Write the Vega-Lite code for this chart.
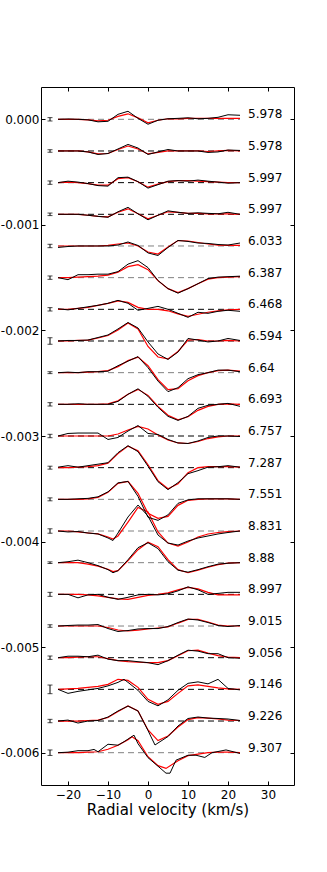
{
"$schema": "https://vega.github.io/schema/vega-lite/v6.json",
"width": 253, "height": 698,
"autosize": "none",
"padding": {"left": 41, "top": 87, "right": 33, "bottom": 87},
"background": "white",
"config": {
  "font": "DejaVu Sans",
  "view": {"stroke": "black", "strokeWidth": 1},
  "axis": {"grid": false, "domain": false, "tickColor": "black", "tickWidth": 1, "labelColor": "black", "labelFont": "DejaVu Sans", "labelFontSize": 12, "labelFlush": false, "labelOverlap": false}
},
"datasets": {
"meta": [
{"p":0,"label":"5.978","base":0,"err":0.000016,"group":"b"},
{"p":1,"label":"5.978","base":-0.0003,"err":0.000012,"group":"a"},
{"p":2,"label":"5.997","base":-0.0006,"err":0.000016,"group":"a"},
{"p":3,"label":"5.997","base":-0.0009,"err":0.000012,"group":"a"},
{"p":4,"label":"6.033","base":-0.0012,"err":0.000016,"group":"b"},
{"p":5,"label":"6.387","base":-0.0015,"err":0.000016,"group":"b"},
{"p":6,"label":"6.468","base":-0.0018,"err":0.000016,"group":"a"},
{"p":7,"label":"6.594","base":-0.0021,"err":0.000031,"group":"a"},
{"p":8,"label":"6.64","base":-0.0024,"err":0.000009,"group":"b"},
{"p":9,"label":"6.693","base":-0.0027,"err":0.000016,"group":"a"},
{"p":10,"label":"6.757","base":-0.003,"err":0.000016,"group":"a"},
{"p":11,"label":"7.287","base":-0.0033,"err":0.000014,"group":"a"},
{"p":12,"label":"7.551","base":-0.0036,"err":0.000014,"group":"b"},
{"p":13,"label":"8.831","base":-0.0039,"err":0.000021,"group":"b"},
{"p":14,"label":"8.88","base":-0.0042,"err":0.000008,"group":"b"},
{"p":15,"label":"8.997","base":-0.0045,"err":0.000019,"group":"a"},
{"p":16,"label":"9.015","base":-0.0048,"err":0.000012,"group":"b"},
{"p":17,"label":"9.056","base":-0.0051,"err":0.000016,"group":"a"},
{"p":18,"label":"9.146","base":-0.0054,"err":0.000041,"group":"a"},
{"p":19,"label":"9.226","base":-0.0057,"err":0.000016,"group":"a"},
{"p":20,"label":"9.307","base":-0.006,"err":0.000026,"group":"b"}
],
"obs": [
{"p":0,"v":-22.5,"y":0},{"p":0,"v":-20,"y":0.000003},{"p":0,"v":-17.5,"y":0},{"p":0,"v":-15,"y":-0.000005},{"p":0,"v":-12.5,"y":-0.000024},{"p":0,"v":-10,"y":-0.000019},{"p":0,"v":-7.5,"y":0.000047},{"p":0,"v":-5,"y":0.000076},{"p":0,"v":-2.5,"y":0.000009},{"p":0,"v":0,"y":-0.000047},{"p":0,"v":2.5,"y":-0.000009},{"p":0,"v":5,"y":0.000005},{"p":0,"v":7.5,"y":0.000009},{"p":0,"v":10,"y":0.000014},{"p":0,"v":12.5,"y":0.000005},{"p":0,"v":15,"y":0.000009},{"p":0,"v":17.5,"y":0.000019},{"p":0,"v":20,"y":0.000043},{"p":0,"v":23,"y":0.000038},
{"p":1,"v":-22.5,"y":-0.0003},{"p":1,"v":-20,"y":-0.0003},{"p":1,"v":-17.5,"y":-0.0003},{"p":1,"v":-15,"y":-0.000309},{"p":1,"v":-12.5,"y":-0.000333},{"p":1,"v":-10,"y":-0.000324},{"p":1,"v":-7.5,"y":-0.000281},{"p":1,"v":-5,"y":-0.000238},{"p":1,"v":-2.5,"y":-0.000272},{"p":1,"v":0,"y":-0.000333},{"p":1,"v":2.5,"y":-0.000309},{"p":1,"v":5,"y":-0.000286},{"p":1,"v":7.5,"y":-0.0003},{"p":1,"v":10,"y":-0.0003},{"p":1,"v":12.5,"y":-0.0003},{"p":1,"v":15,"y":-0.000314},{"p":1,"v":17.5,"y":-0.000309},{"p":1,"v":20,"y":-0.000291},{"p":1,"v":23,"y":-0.000295},
{"p":2,"v":-22.5,"y":-0.0006},{"p":2,"v":-20,"y":-0.000586},{"p":2,"v":-17.5,"y":-0.000595},{"p":2,"v":-15,"y":-0.000609},{"p":2,"v":-12.5,"y":-0.000628},{"p":2,"v":-10,"y":-0.000633},{"p":2,"v":-7.5,"y":-0.000553},{"p":2,"v":-5,"y":-0.000548},{"p":2,"v":-2.5,"y":-0.000591},{"p":2,"v":0,"y":-0.000652},{"p":2,"v":2.5,"y":-0.000619},{"p":2,"v":5,"y":-0.000586},{"p":2,"v":7.5,"y":-0.000581},{"p":2,"v":10,"y":-0.000586},{"p":2,"v":12.5,"y":-0.000576},{"p":2,"v":15,"y":-0.000586},{"p":2,"v":17.5,"y":-0.000595},{"p":2,"v":20,"y":-0.000605},{"p":2,"v":23,"y":-0.0006},
{"p":3,"v":-22.5,"y":-0.0009},{"p":3,"v":-20,"y":-0.0009},{"p":3,"v":-17.5,"y":-0.0009},{"p":3,"v":-15,"y":-0.000909},{"p":3,"v":-12.5,"y":-0.000919},{"p":3,"v":-10,"y":-0.000928},{"p":3,"v":-7.5,"y":-0.000876},{"p":3,"v":-5,"y":-0.000834},{"p":3,"v":-2.5,"y":-0.000895},{"p":3,"v":0,"y":-0.000952},{"p":3,"v":2.5,"y":-0.000909},{"p":3,"v":5,"y":-0.000867},{"p":3,"v":7.5,"y":-0.000881},{"p":3,"v":10,"y":-0.000891},{"p":3,"v":12.5,"y":-0.000886},{"p":3,"v":15,"y":-0.000891},{"p":3,"v":17.5,"y":-0.000895},{"p":3,"v":20,"y":-0.000881},{"p":3,"v":23,"y":-0.0009},
{"p":4,"v":-22.5,"y":-0.001214},{"p":4,"v":-20,"y":-0.001205},{"p":4,"v":-17.5,"y":-0.0012},{"p":4,"v":-15,"y":-0.0012},{"p":4,"v":-12.5,"y":-0.0012},{"p":4,"v":-10,"y":-0.0012},{"p":4,"v":-7.5,"y":-0.001191},{"p":4,"v":-5,"y":-0.001162},{"p":4,"v":-2.5,"y":-0.001195},{"p":4,"v":0,"y":-0.001266},{"p":4,"v":2.5,"y":-0.00129},{"p":4,"v":5,"y":-0.001214},{"p":4,"v":7.5,"y":-0.001148},{"p":4,"v":10,"y":-0.001157},{"p":4,"v":12.5,"y":-0.001172},{"p":4,"v":15,"y":-0.001176},{"p":4,"v":17.5,"y":-0.001186},{"p":4,"v":20,"y":-0.001191},{"p":4,"v":23,"y":-0.001172},
{"p":5,"v":-22.5,"y":-0.0015},{"p":5,"v":-20,"y":-0.001519},{"p":5,"v":-17.5,"y":-0.001472},{"p":5,"v":-15,"y":-0.001472},{"p":5,"v":-12.5,"y":-0.001467},{"p":5,"v":-10,"y":-0.001467},{"p":5,"v":-7.5,"y":-0.001443},{"p":5,"v":-5,"y":-0.001372},{"p":5,"v":-2.5,"y":-0.001339},{"p":5,"v":0,"y":-0.001405},{"p":5,"v":2.5,"y":-0.001528},{"p":5,"v":5,"y":-0.001604},{"p":5,"v":7.5,"y":-0.001647},{"p":5,"v":10,"y":-0.001604},{"p":5,"v":12.5,"y":-0.001557},{"p":5,"v":15,"y":-0.001509},{"p":5,"v":17.5,"y":-0.001495},{"p":5,"v":20,"y":-0.001491},{"p":5,"v":23,"y":-0.001486},
{"p":6,"v":-22.5,"y":-0.001795},{"p":6,"v":-20,"y":-0.001805},{"p":6,"v":-17.5,"y":-0.001791},{"p":6,"v":-15,"y":-0.001776},{"p":6,"v":-12.5,"y":-0.001762},{"p":6,"v":-10,"y":-0.001743},{"p":6,"v":-7.5,"y":-0.001715},{"p":6,"v":-5,"y":-0.001743},{"p":6,"v":-2.5,"y":-0.001809},{"p":6,"v":0,"y":-0.001791},{"p":6,"v":2.5,"y":-0.001772},{"p":6,"v":5,"y":-0.0018},{"p":6,"v":7.5,"y":-0.001838},{"p":6,"v":10,"y":-0.001876},{"p":6,"v":12.5,"y":-0.001828},{"p":6,"v":15,"y":-0.001838},{"p":6,"v":17.5,"y":-0.001819},{"p":6,"v":20,"y":-0.001809},{"p":6,"v":23,"y":-0.001819},
{"p":7,"v":-22.5,"y":-0.0021},{"p":7,"v":-20,"y":-0.002095},{"p":7,"v":-17.5,"y":-0.002095},{"p":7,"v":-15,"y":-0.002091},{"p":7,"v":-12.5,"y":-0.002067},{"p":7,"v":-10,"y":-0.002043},{"p":7,"v":-7.5,"y":-0.001986},{"p":7,"v":-5,"y":-0.001925},{"p":7,"v":-2.5,"y":-0.001977},{"p":7,"v":0,"y":-0.002109},{"p":7,"v":2.5,"y":-0.002223},{"p":7,"v":5,"y":-0.002275},{"p":7,"v":7.5,"y":-0.002204},{"p":7,"v":10,"y":-0.002076},{"p":7,"v":12.5,"y":-0.002091},{"p":7,"v":15,"y":-0.002109},{"p":7,"v":17.5,"y":-0.0021},{"p":7,"v":20,"y":-0.002076},{"p":7,"v":23,"y":-0.002095},
{"p":8,"v":-22.5,"y":-0.0024},{"p":8,"v":-20,"y":-0.002395},{"p":8,"v":-17.5,"y":-0.0024},{"p":8,"v":-15,"y":-0.002391},{"p":8,"v":-12.5,"y":-0.002391},{"p":8,"v":-10,"y":-0.002386},{"p":8,"v":-7.5,"y":-0.002334},{"p":8,"v":-5,"y":-0.002291},{"p":8,"v":-2.5,"y":-0.002248},{"p":8,"v":0,"y":-0.002353},{"p":8,"v":2.5,"y":-0.00248},{"p":8,"v":5,"y":-0.00258},{"p":8,"v":7.5,"y":-0.002542},{"p":8,"v":10,"y":-0.002457},{"p":8,"v":12.5,"y":-0.002419},{"p":8,"v":15,"y":-0.0024},{"p":8,"v":17.5,"y":-0.002376},{"p":8,"v":20,"y":-0.002376},{"p":8,"v":23,"y":-0.002391},
{"p":9,"v":-22.5,"y":-0.0027},{"p":9,"v":-20,"y":-0.0027},{"p":9,"v":-17.5,"y":-0.002695},{"p":9,"v":-15,"y":-0.0027},{"p":9,"v":-12.5,"y":-0.0027},{"p":9,"v":-10,"y":-0.0027},{"p":9,"v":-7.5,"y":-0.002672},{"p":9,"v":-5,"y":-0.002605},{"p":9,"v":-2.5,"y":-0.002553},{"p":9,"v":0,"y":-0.002624},{"p":9,"v":2.5,"y":-0.002728},{"p":9,"v":5,"y":-0.002814},{"p":9,"v":7.5,"y":-0.002852},{"p":9,"v":10,"y":-0.002814},{"p":9,"v":12.5,"y":-0.002738},{"p":9,"v":15,"y":-0.002709},{"p":9,"v":17.5,"y":-0.0027},{"p":9,"v":20,"y":-0.002691},{"p":9,"v":23,"y":-0.002719},
{"p":10,"v":-22.5,"y":-0.003},{"p":10,"v":-20,"y":-0.002976},{"p":10,"v":-17.5,"y":-0.002972},{"p":10,"v":-15,"y":-0.002972},{"p":10,"v":-12.5,"y":-0.002972},{"p":10,"v":-10,"y":-0.003033},{"p":10,"v":-7.5,"y":-0.003014},{"p":10,"v":-5,"y":-0.002953},{"p":10,"v":-2.5,"y":-0.002901},{"p":10,"v":0,"y":-0.002976},{"p":10,"v":2.5,"y":-0.002986},{"p":10,"v":5,"y":-0.003033},{"p":10,"v":7.5,"y":-0.003066},{"p":10,"v":10,"y":-0.003071},{"p":10,"v":12.5,"y":-0.003047},{"p":10,"v":15,"y":-0.003014},{"p":10,"v":17.5,"y":-0.003},{"p":10,"v":20,"y":-0.003},{"p":10,"v":23,"y":-0.003005},
{"p":11,"v":-22.5,"y":-0.003295},{"p":11,"v":-20,"y":-0.003281},{"p":11,"v":-17.5,"y":-0.003295},{"p":11,"v":-15,"y":-0.003281},{"p":11,"v":-12.5,"y":-0.003267},{"p":11,"v":-10,"y":-0.003253},{"p":11,"v":-7.5,"y":-0.003158},{"p":11,"v":-5,"y":-0.003092},{"p":11,"v":-2.5,"y":-0.003148},{"p":11,"v":0,"y":-0.003286},{"p":11,"v":2.5,"y":-0.003433},{"p":11,"v":5,"y":-0.003508},{"p":11,"v":7.5,"y":-0.003442},{"p":11,"v":10,"y":-0.003357},{"p":11,"v":12.5,"y":-0.003328},{"p":11,"v":15,"y":-0.003295},{"p":11,"v":17.5,"y":-0.003291},{"p":11,"v":20,"y":-0.003281},{"p":11,"v":23,"y":-0.003295},
{"p":12,"v":-22.5,"y":-0.0036},{"p":12,"v":-20,"y":-0.0036},{"p":12,"v":-17.5,"y":-0.003595},{"p":12,"v":-15,"y":-0.003591},{"p":12,"v":-12.5,"y":-0.003576},{"p":12,"v":-10,"y":-0.003529},{"p":12,"v":-7.5,"y":-0.003444},{"p":12,"v":-5,"y":-0.00343},{"p":12,"v":-2.5,"y":-0.003572},{"p":12,"v":0,"y":-0.00377},{"p":12,"v":2.5,"y":-0.003799},{"p":12,"v":5,"y":-0.003747},{"p":12,"v":7.5,"y":-0.003638},{"p":12,"v":10,"y":-0.003605},{"p":12,"v":12.5,"y":-0.003595},{"p":12,"v":15,"y":-0.003595},{"p":12,"v":17.5,"y":-0.003595},{"p":12,"v":20,"y":-0.003595},{"p":12,"v":23,"y":-0.0036},
{"p":13,"v":-22.5,"y":-0.0039},{"p":13,"v":-20,"y":-0.003909},{"p":13,"v":-17.5,"y":-0.003905},{"p":13,"v":-15,"y":-0.003919},{"p":13,"v":-12.5,"y":-0.003928},{"p":13,"v":-10,"y":-0.003966},{"p":13,"v":-8.75,"y":-0.00399},{"p":13,"v":-7.5,"y":-0.003919},{"p":13,"v":-5,"y":-0.003767},{"p":13,"v":-2.5,"y":-0.003654},{"p":13,"v":0,"y":-0.003758},{"p":13,"v":2.5,"y":-0.003938},{"p":13,"v":5,"y":-0.004014},{"p":13,"v":7.5,"y":-0.004033},{"p":13,"v":10,"y":-0.003995},{"p":13,"v":12.5,"y":-0.003966},{"p":13,"v":15,"y":-0.003947},{"p":13,"v":17.5,"y":-0.003928},{"p":13,"v":20,"y":-0.003914},{"p":13,"v":23,"y":-0.0039},
{"p":14,"v":-22.5,"y":-0.0042},{"p":14,"v":-20,"y":-0.004191},{"p":14,"v":-17.5,"y":-0.004176},{"p":14,"v":-15,"y":-0.0042},{"p":14,"v":-12.5,"y":-0.004228},{"p":14,"v":-10,"y":-0.004266},{"p":14,"v":-8.75,"y":-0.004295},{"p":14,"v":-7.5,"y":-0.004276},{"p":14,"v":-5,"y":-0.004172},{"p":14,"v":-2.5,"y":-0.004058},{"p":14,"v":0,"y":-0.004011},{"p":14,"v":2.5,"y":-0.004067},{"p":14,"v":5,"y":-0.004191},{"p":14,"v":7.5,"y":-0.004271},{"p":14,"v":10,"y":-0.00429},{"p":14,"v":12.5,"y":-0.004266},{"p":14,"v":15,"y":-0.004238},{"p":14,"v":17.5,"y":-0.004214},{"p":14,"v":20,"y":-0.004205},{"p":14,"v":23,"y":-0.0042},
{"p":15,"v":-22.5,"y":-0.0045},{"p":15,"v":-20,"y":-0.0045},{"p":15,"v":-17.5,"y":-0.004533},{"p":15,"v":-15,"y":-0.004505},{"p":15,"v":-12.5,"y":-0.0045},{"p":15,"v":-10,"y":-0.004528},{"p":15,"v":-7.5,"y":-0.004547},{"p":15,"v":-5,"y":-0.004528},{"p":15,"v":-2.5,"y":-0.004505},{"p":15,"v":0,"y":-0.0045},{"p":15,"v":2.5,"y":-0.004505},{"p":15,"v":5,"y":-0.004495},{"p":15,"v":7.5,"y":-0.004467},{"p":15,"v":10,"y":-0.004429},{"p":15,"v":12.5,"y":-0.004457},{"p":15,"v":15,"y":-0.0045},{"p":15,"v":17.5,"y":-0.004491},{"p":15,"v":20,"y":-0.004481},{"p":15,"v":23,"y":-0.004481},
{"p":16,"v":-22.5,"y":-0.0048},{"p":16,"v":-20,"y":-0.004795},{"p":16,"v":-17.5,"y":-0.004791},{"p":16,"v":-15,"y":-0.004791},{"p":16,"v":-12.5,"y":-0.004786},{"p":16,"v":-10,"y":-0.004824},{"p":16,"v":-7.5,"y":-0.004852},{"p":16,"v":-5,"y":-0.004843},{"p":16,"v":-2.5,"y":-0.004828},{"p":16,"v":0,"y":-0.004824},{"p":16,"v":2.5,"y":-0.004824},{"p":16,"v":5,"y":-0.004805},{"p":16,"v":7.5,"y":-0.004767},{"p":16,"v":10,"y":-0.004734},{"p":16,"v":12.5,"y":-0.004743},{"p":16,"v":15,"y":-0.004767},{"p":16,"v":17.5,"y":-0.004795},{"p":16,"v":20,"y":-0.004805},{"p":16,"v":23,"y":-0.004795},
{"p":17,"v":-22.5,"y":-0.0051},{"p":17,"v":-20,"y":-0.005086},{"p":17,"v":-17.5,"y":-0.005086},{"p":17,"v":-15,"y":-0.005091},{"p":17,"v":-12.5,"y":-0.005076},{"p":17,"v":-10,"y":-0.005114},{"p":17,"v":-7.5,"y":-0.005128},{"p":17,"v":-5,"y":-0.005128},{"p":17,"v":-2.5,"y":-0.005138},{"p":17,"v":0,"y":-0.005147},{"p":17,"v":2.5,"y":-0.005166},{"p":17,"v":5,"y":-0.005128},{"p":17,"v":7.5,"y":-0.005076},{"p":17,"v":10,"y":-0.005029},{"p":17,"v":12.5,"y":-0.005038},{"p":17,"v":15,"y":-0.005062},{"p":17,"v":17.5,"y":-0.005062},{"p":17,"v":20,"y":-0.0051},{"p":17,"v":23,"y":-0.005105},
{"p":18,"v":-22.5,"y":-0.0054},{"p":18,"v":-20,"y":-0.005438},{"p":18,"v":-17.5,"y":-0.005419},{"p":18,"v":-15,"y":-0.005405},{"p":18,"v":-12.5,"y":-0.005391},{"p":18,"v":-10,"y":-0.005367},{"p":18,"v":-7.5,"y":-0.005334},{"p":18,"v":-6,"y":-0.005305},{"p":18,"v":-5,"y":-0.005334},{"p":18,"v":-2.5,"y":-0.005409},{"p":18,"v":0,"y":-0.005514},{"p":18,"v":2.5,"y":-0.005556},{"p":18,"v":5,"y":-0.005499},{"p":18,"v":7.5,"y":-0.005409},{"p":18,"v":10,"y":-0.005343},{"p":18,"v":12.5,"y":-0.005329},{"p":18,"v":15,"y":-0.005348},{"p":18,"v":17.5,"y":-0.005305},{"p":18,"v":20,"y":-0.005391},{"p":18,"v":23,"y":-0.005405},
{"p":19,"v":-22.5,"y":-0.0057},{"p":19,"v":-20,"y":-0.005691},{"p":19,"v":-17.5,"y":-0.005719},{"p":19,"v":-15,"y":-0.0057},{"p":19,"v":-12.5,"y":-0.005695},{"p":19,"v":-10,"y":-0.005662},{"p":19,"v":-7.5,"y":-0.005605},{"p":19,"v":-5,"y":-0.005558},{"p":19,"v":-2.5,"y":-0.005605},{"p":19,"v":0,"y":-0.00579},{"p":19,"v":1.75,"y":-0.005927},{"p":19,"v":2.5,"y":-0.005908},{"p":19,"v":5,"y":-0.005847},{"p":19,"v":7.5,"y":-0.005747},{"p":19,"v":10,"y":-0.005676},{"p":19,"v":12.5,"y":-0.005662},{"p":19,"v":15,"y":-0.005672},{"p":19,"v":17.5,"y":-0.005676},{"p":19,"v":20,"y":-0.005681},{"p":19,"v":23,"y":-0.005695},
{"p":20,"v":-22.5,"y":-0.006},{"p":20,"v":-20,"y":-0.005995},{"p":20,"v":-17.5,"y":-0.005981},{"p":20,"v":-15,"y":-0.005981},{"p":20,"v":-13.5,"y":-0.005969},{"p":20,"v":-12.5,"y":-0.005991},{"p":20,"v":-10,"y":-0.00592},{"p":20,"v":-7.5,"y":-0.005929},{"p":20,"v":-6,"y":-0.005896},{"p":20,"v":-3.5,"y":-0.005834},{"p":20,"v":-2.5,"y":-0.005915},{"p":20,"v":0,"y":-0.006047},{"p":20,"v":2.5,"y":-0.006128},{"p":20,"v":4.5,"y":-0.006194},{"p":20,"v":5.5,"y":-0.006194},{"p":20,"v":7,"y":-0.006071},{"p":20,"v":10,"y":-0.006024},{"p":20,"v":12,"y":-0.006024},{"p":20,"v":14.2,"y":-0.006045},{"p":20,"v":16,"y":-0.006},{"p":20,"v":19.5,"y":-0.005974},{"p":20,"v":23,"y":-0.006007}
],
"model": [
{"p":0,"v":-22.5,"y":0},{"p":0,"v":-20,"y":0},{"p":0,"v":-17.5,"y":0},{"p":0,"v":-15,"y":-0.000005},{"p":0,"v":-12.5,"y":-0.000014},{"p":0,"v":-10,"y":-0.000009},{"p":0,"v":-7.5,"y":0.000028},{"p":0,"v":-5,"y":0.000052},{"p":0,"v":-2.5,"y":0.000014},{"p":0,"v":0,"y":-0.000033},{"p":0,"v":2.5,"y":-0.000009},{"p":0,"v":5,"y":0.000005},{"p":0,"v":7.5,"y":0.000005},{"p":0,"v":10,"y":0.000009},{"p":0,"v":12.5,"y":0.000009},{"p":0,"v":15,"y":0.000009},{"p":0,"v":17.5,"y":0.000009},{"p":0,"v":20,"y":0.000009},{"p":0,"v":23,"y":0.000009},
{"p":1,"v":-22.5,"y":-0.0003},{"p":1,"v":-20,"y":-0.0003},{"p":1,"v":-17.5,"y":-0.0003},{"p":1,"v":-15,"y":-0.000309},{"p":1,"v":-12.5,"y":-0.000328},{"p":1,"v":-10,"y":-0.000324},{"p":1,"v":-7.5,"y":-0.000286},{"p":1,"v":-5,"y":-0.000253},{"p":1,"v":-2.5,"y":-0.000281},{"p":1,"v":0,"y":-0.000328},{"p":1,"v":2.5,"y":-0.000314},{"p":1,"v":5,"y":-0.0003},{"p":1,"v":7.5,"y":-0.0003},{"p":1,"v":10,"y":-0.0003},{"p":1,"v":12.5,"y":-0.0003},{"p":1,"v":15,"y":-0.000305},{"p":1,"v":17.5,"y":-0.0003},{"p":1,"v":20,"y":-0.000295},{"p":1,"v":23,"y":-0.0003},
{"p":2,"v":-22.5,"y":-0.0006},{"p":2,"v":-20,"y":-0.000595},{"p":2,"v":-17.5,"y":-0.0006},{"p":2,"v":-15,"y":-0.000609},{"p":2,"v":-12.5,"y":-0.000624},{"p":2,"v":-10,"y":-0.000624},{"p":2,"v":-7.5,"y":-0.000562},{"p":2,"v":-5,"y":-0.000553},{"p":2,"v":-2.5,"y":-0.000591},{"p":2,"v":0,"y":-0.000643},{"p":2,"v":2.5,"y":-0.000614},{"p":2,"v":5,"y":-0.000591},{"p":2,"v":7.5,"y":-0.000581},{"p":2,"v":10,"y":-0.000581},{"p":2,"v":12.5,"y":-0.000586},{"p":2,"v":15,"y":-0.000591},{"p":2,"v":17.5,"y":-0.000595},{"p":2,"v":20,"y":-0.0006},{"p":2,"v":23,"y":-0.0006},
{"p":3,"v":-22.5,"y":-0.0009},{"p":3,"v":-20,"y":-0.0009},{"p":3,"v":-17.5,"y":-0.0009},{"p":3,"v":-15,"y":-0.000909},{"p":3,"v":-12.5,"y":-0.000919},{"p":3,"v":-10,"y":-0.000924},{"p":3,"v":-7.5,"y":-0.000881},{"p":3,"v":-5,"y":-0.000848},{"p":3,"v":-2.5,"y":-0.000895},{"p":3,"v":0,"y":-0.000943},{"p":3,"v":2.5,"y":-0.000909},{"p":3,"v":5,"y":-0.000876},{"p":3,"v":7.5,"y":-0.000881},{"p":3,"v":10,"y":-0.000891},{"p":3,"v":12.5,"y":-0.000891},{"p":3,"v":15,"y":-0.000895},{"p":3,"v":17.5,"y":-0.000895},{"p":3,"v":20,"y":-0.000895},{"p":3,"v":23,"y":-0.0009},
{"p":4,"v":-22.5,"y":-0.0012},{"p":4,"v":-20,"y":-0.0012},{"p":4,"v":-17.5,"y":-0.0012},{"p":4,"v":-15,"y":-0.0012},{"p":4,"v":-12.5,"y":-0.0012},{"p":4,"v":-10,"y":-0.001195},{"p":4,"v":-7.5,"y":-0.001181},{"p":4,"v":-5,"y":-0.001172},{"p":4,"v":-2.5,"y":-0.0012},{"p":4,"v":0,"y":-0.001257},{"p":4,"v":2.5,"y":-0.001276},{"p":4,"v":5,"y":-0.001209},{"p":4,"v":7.5,"y":-0.001148},{"p":4,"v":10,"y":-0.001153},{"p":4,"v":12.5,"y":-0.001167},{"p":4,"v":15,"y":-0.001181},{"p":4,"v":17.5,"y":-0.001191},{"p":4,"v":20,"y":-0.001195},{"p":4,"v":23,"y":-0.001195},
{"p":5,"v":-22.5,"y":-0.0015},{"p":5,"v":-20,"y":-0.0015},{"p":5,"v":-17.5,"y":-0.001495},{"p":5,"v":-15,"y":-0.001491},{"p":5,"v":-12.5,"y":-0.001486},{"p":5,"v":-10,"y":-0.001476},{"p":5,"v":-7.5,"y":-0.001448},{"p":5,"v":-5,"y":-0.001396},{"p":5,"v":-2.5,"y":-0.001377},{"p":5,"v":0,"y":-0.001424},{"p":5,"v":2.5,"y":-0.001528},{"p":5,"v":5,"y":-0.001604},{"p":5,"v":7.5,"y":-0.001642},{"p":5,"v":10,"y":-0.001604},{"p":5,"v":12.5,"y":-0.001557},{"p":5,"v":15,"y":-0.001514},{"p":5,"v":17.5,"y":-0.0015},{"p":5,"v":20,"y":-0.001495},{"p":5,"v":23,"y":-0.001491},
{"p":6,"v":-22.5,"y":-0.0018},{"p":6,"v":-20,"y":-0.0018},{"p":6,"v":-17.5,"y":-0.001791},{"p":6,"v":-15,"y":-0.001781},{"p":6,"v":-12.5,"y":-0.001762},{"p":6,"v":-10,"y":-0.001743},{"p":6,"v":-7.5,"y":-0.00172},{"p":6,"v":-5,"y":-0.001734},{"p":6,"v":-2.5,"y":-0.001781},{"p":6,"v":0,"y":-0.0018},{"p":6,"v":2.5,"y":-0.0018},{"p":6,"v":5,"y":-0.001814},{"p":6,"v":7.5,"y":-0.001843},{"p":6,"v":10,"y":-0.001866},{"p":6,"v":12.5,"y":-0.001847},{"p":6,"v":15,"y":-0.001828},{"p":6,"v":17.5,"y":-0.001814},{"p":6,"v":20,"y":-0.001805},{"p":6,"v":23,"y":-0.0018},
{"p":7,"v":-22.5,"y":-0.0021},{"p":7,"v":-20,"y":-0.0021},{"p":7,"v":-17.5,"y":-0.002095},{"p":7,"v":-15,"y":-0.002091},{"p":7,"v":-12.5,"y":-0.002072},{"p":7,"v":-10,"y":-0.002048},{"p":7,"v":-7.5,"y":-0.001996},{"p":7,"v":-5,"y":-0.00193},{"p":7,"v":-2.5,"y":-0.001986},{"p":7,"v":0,"y":-0.002152},{"p":7,"v":2.5,"y":-0.002252},{"p":7,"v":5,"y":-0.00227},{"p":7,"v":7.5,"y":-0.002199},{"p":7,"v":10,"y":-0.002091},{"p":7,"v":12.5,"y":-0.002086},{"p":7,"v":15,"y":-0.0021},{"p":7,"v":17.5,"y":-0.0021},{"p":7,"v":20,"y":-0.002095},{"p":7,"v":23,"y":-0.0021},
{"p":8,"v":-22.5,"y":-0.0024},{"p":8,"v":-20,"y":-0.0024},{"p":8,"v":-17.5,"y":-0.0024},{"p":8,"v":-15,"y":-0.002395},{"p":8,"v":-12.5,"y":-0.002391},{"p":8,"v":-10,"y":-0.002381},{"p":8,"v":-7.5,"y":-0.002343},{"p":8,"v":-5,"y":-0.002286},{"p":8,"v":-2.5,"y":-0.002253},{"p":8,"v":0,"y":-0.002334},{"p":8,"v":2.5,"y":-0.002466},{"p":8,"v":5,"y":-0.002561},{"p":8,"v":7.5,"y":-0.002552},{"p":8,"v":10,"y":-0.002476},{"p":8,"v":12.5,"y":-0.002428},{"p":8,"v":15,"y":-0.0024},{"p":8,"v":17.5,"y":-0.002381},{"p":8,"v":20,"y":-0.002376},{"p":8,"v":23,"y":-0.002386},
{"p":9,"v":-22.5,"y":-0.0027},{"p":9,"v":-20,"y":-0.0027},{"p":9,"v":-17.5,"y":-0.0027},{"p":9,"v":-15,"y":-0.0027},{"p":9,"v":-12.5,"y":-0.0027},{"p":9,"v":-10,"y":-0.002695},{"p":9,"v":-7.5,"y":-0.002667},{"p":9,"v":-5,"y":-0.002605},{"p":9,"v":-2.5,"y":-0.002558},{"p":9,"v":0,"y":-0.002615},{"p":9,"v":2.5,"y":-0.002719},{"p":9,"v":5,"y":-0.002804},{"p":9,"v":7.5,"y":-0.002847},{"p":9,"v":10,"y":-0.002818},{"p":9,"v":12.5,"y":-0.002757},{"p":9,"v":15,"y":-0.002719},{"p":9,"v":17.5,"y":-0.0027},{"p":9,"v":20,"y":-0.002695},{"p":9,"v":23,"y":-0.0027},
{"p":10,"v":-22.5,"y":-0.003},{"p":10,"v":-20,"y":-0.003},{"p":10,"v":-17.5,"y":-0.003},{"p":10,"v":-15,"y":-0.003},{"p":10,"v":-12.5,"y":-0.003},{"p":10,"v":-10,"y":-0.003},{"p":10,"v":-7.5,"y":-0.002981},{"p":10,"v":-5,"y":-0.002943},{"p":10,"v":-2.5,"y":-0.00291},{"p":10,"v":0,"y":-0.002934},{"p":10,"v":2.5,"y":-0.002991},{"p":10,"v":5,"y":-0.003038},{"p":10,"v":7.5,"y":-0.003066},{"p":10,"v":10,"y":-0.003071},{"p":10,"v":12.5,"y":-0.003052},{"p":10,"v":15,"y":-0.003024},{"p":10,"v":17.5,"y":-0.003009},{"p":10,"v":20,"y":-0.003},{"p":10,"v":23,"y":-0.003},
{"p":11,"v":-22.5,"y":-0.0033},{"p":11,"v":-20,"y":-0.0033},{"p":11,"v":-17.5,"y":-0.003295},{"p":11,"v":-15,"y":-0.003291},{"p":11,"v":-12.5,"y":-0.003281},{"p":11,"v":-10,"y":-0.003257},{"p":11,"v":-7.5,"y":-0.003167},{"p":11,"v":-5,"y":-0.003096},{"p":11,"v":-2.5,"y":-0.003139},{"p":11,"v":0,"y":-0.003272},{"p":11,"v":2.5,"y":-0.003423},{"p":11,"v":5,"y":-0.003499},{"p":11,"v":7.5,"y":-0.003452},{"p":11,"v":10,"y":-0.003347},{"p":11,"v":12.5,"y":-0.0033},{"p":11,"v":15,"y":-0.003291},{"p":11,"v":17.5,"y":-0.003291},{"p":11,"v":20,"y":-0.003291},{"p":11,"v":23,"y":-0.003295},
{"p":12,"v":-22.5,"y":-0.0036},{"p":12,"v":-20,"y":-0.0036},{"p":12,"v":-17.5,"y":-0.0036},{"p":12,"v":-15,"y":-0.003595},{"p":12,"v":-12.5,"y":-0.003581},{"p":12,"v":-10,"y":-0.003534},{"p":12,"v":-7.5,"y":-0.003448},{"p":12,"v":-5,"y":-0.00343},{"p":12,"v":-2.5,"y":-0.003543},{"p":12,"v":0,"y":-0.003733},{"p":12,"v":2.5,"y":-0.00378},{"p":12,"v":5,"y":-0.003761},{"p":12,"v":7.5,"y":-0.003657},{"p":12,"v":10,"y":-0.003609},{"p":12,"v":12.5,"y":-0.0036},{"p":12,"v":15,"y":-0.003595},{"p":12,"v":17.5,"y":-0.003595},{"p":12,"v":20,"y":-0.003595},{"p":12,"v":23,"y":-0.0036},
{"p":13,"v":-22.5,"y":-0.0039},{"p":13,"v":-20,"y":-0.0039},{"p":13,"v":-17.5,"y":-0.003909},{"p":13,"v":-15,"y":-0.003919},{"p":13,"v":-12.5,"y":-0.003928},{"p":13,"v":-10,"y":-0.003957},{"p":13,"v":-8.75,"y":-0.003976},{"p":13,"v":-7.5,"y":-0.003947},{"p":13,"v":-5,"y":-0.003815},{"p":13,"v":-2.5,"y":-0.003677},{"p":13,"v":0,"y":-0.00372},{"p":13,"v":2.5,"y":-0.003909},{"p":13,"v":5,"y":-0.004014},{"p":13,"v":7.5,"y":-0.004042},{"p":13,"v":10,"y":-0.004004},{"p":13,"v":12.5,"y":-0.003957},{"p":13,"v":15,"y":-0.003928},{"p":13,"v":17.5,"y":-0.003914},{"p":13,"v":20,"y":-0.003905},{"p":13,"v":23,"y":-0.0039},
{"p":14,"v":-22.5,"y":-0.0042},{"p":14,"v":-20,"y":-0.0042},{"p":14,"v":-17.5,"y":-0.0042},{"p":14,"v":-15,"y":-0.004214},{"p":14,"v":-12.5,"y":-0.004233},{"p":14,"v":-10,"y":-0.004262},{"p":14,"v":-8.75,"y":-0.004285},{"p":14,"v":-7.5,"y":-0.004276},{"p":14,"v":-5,"y":-0.004181},{"p":14,"v":-2.5,"y":-0.004077},{"p":14,"v":0,"y":-0.004006},{"p":14,"v":2.5,"y":-0.004048},{"p":14,"v":5,"y":-0.004172},{"p":14,"v":7.5,"y":-0.004266},{"p":14,"v":10,"y":-0.004295},{"p":14,"v":12.5,"y":-0.004271},{"p":14,"v":15,"y":-0.004243},{"p":14,"v":17.5,"y":-0.004219},{"p":14,"v":20,"y":-0.004205},{"p":14,"v":23,"y":-0.0042},
{"p":15,"v":-22.5,"y":-0.0045},{"p":15,"v":-20,"y":-0.0045},{"p":15,"v":-17.5,"y":-0.0045},{"p":15,"v":-15,"y":-0.004505},{"p":15,"v":-12.5,"y":-0.004514},{"p":15,"v":-10,"y":-0.004528},{"p":15,"v":-7.5,"y":-0.004543},{"p":15,"v":-5,"y":-0.004547},{"p":15,"v":-2.5,"y":-0.004528},{"p":15,"v":0,"y":-0.004509},{"p":15,"v":2.5,"y":-0.0045},{"p":15,"v":5,"y":-0.004486},{"p":15,"v":7.5,"y":-0.004457},{"p":15,"v":10,"y":-0.004434},{"p":15,"v":12.5,"y":-0.004448},{"p":15,"v":15,"y":-0.004481},{"p":15,"v":17.5,"y":-0.004505},{"p":15,"v":20,"y":-0.004505},{"p":15,"v":23,"y":-0.004505},
{"p":16,"v":-22.5,"y":-0.0048},{"p":16,"v":-20,"y":-0.0048},{"p":16,"v":-17.5,"y":-0.0048},{"p":16,"v":-15,"y":-0.0048},{"p":16,"v":-12.5,"y":-0.0048},{"p":16,"v":-10,"y":-0.004814},{"p":16,"v":-7.5,"y":-0.004838},{"p":16,"v":-5,"y":-0.004847},{"p":16,"v":-2.5,"y":-0.004838},{"p":16,"v":0,"y":-0.004828},{"p":16,"v":2.5,"y":-0.004819},{"p":16,"v":5,"y":-0.004809},{"p":16,"v":7.5,"y":-0.004772},{"p":16,"v":10,"y":-0.004738},{"p":16,"v":12.5,"y":-0.004738},{"p":16,"v":15,"y":-0.004762},{"p":16,"v":17.5,"y":-0.004791},{"p":16,"v":20,"y":-0.0048},{"p":16,"v":23,"y":-0.0048},
{"p":17,"v":-22.5,"y":-0.0051},{"p":17,"v":-20,"y":-0.0051},{"p":17,"v":-17.5,"y":-0.005095},{"p":17,"v":-15,"y":-0.005091},{"p":17,"v":-12.5,"y":-0.005091},{"p":17,"v":-10,"y":-0.005109},{"p":17,"v":-7.5,"y":-0.005128},{"p":17,"v":-5,"y":-0.005138},{"p":17,"v":-2.5,"y":-0.005143},{"p":17,"v":0,"y":-0.005147},{"p":17,"v":2.5,"y":-0.005147},{"p":17,"v":5,"y":-0.005128},{"p":17,"v":7.5,"y":-0.005081},{"p":17,"v":10,"y":-0.005034},{"p":17,"v":12.5,"y":-0.005029},{"p":17,"v":15,"y":-0.005057},{"p":17,"v":17.5,"y":-0.005081},{"p":17,"v":20,"y":-0.005095},{"p":17,"v":23,"y":-0.0051},
{"p":18,"v":-22.5,"y":-0.0054},{"p":18,"v":-20,"y":-0.005395},{"p":18,"v":-17.5,"y":-0.005391},{"p":18,"v":-15,"y":-0.005381},{"p":18,"v":-12.5,"y":-0.005372},{"p":18,"v":-10,"y":-0.005353},{"p":18,"v":-7.5,"y":-0.005305},{"p":18,"v":-5,"y":-0.005315},{"p":18,"v":-2.5,"y":-0.005381},{"p":18,"v":0,"y":-0.005495},{"p":18,"v":2.5,"y":-0.005542},{"p":18,"v":5,"y":-0.005514},{"p":18,"v":7.5,"y":-0.005438},{"p":18,"v":10,"y":-0.005367},{"p":18,"v":12.5,"y":-0.005357},{"p":18,"v":15,"y":-0.005372},{"p":18,"v":17.5,"y":-0.005386},{"p":18,"v":20,"y":-0.005395},{"p":18,"v":23,"y":-0.0054},
{"p":19,"v":-22.5,"y":-0.0057},{"p":19,"v":-20,"y":-0.0057},{"p":19,"v":-17.5,"y":-0.0057},{"p":19,"v":-15,"y":-0.005695},{"p":19,"v":-12.5,"y":-0.005691},{"p":19,"v":-10,"y":-0.005667},{"p":19,"v":-7.5,"y":-0.00561},{"p":19,"v":-5,"y":-0.005558},{"p":19,"v":-2.5,"y":-0.005605},{"p":19,"v":0,"y":-0.005785},{"p":19,"v":2.5,"y":-0.005885},{"p":19,"v":5,"y":-0.005842},{"p":19,"v":7.5,"y":-0.005757},{"p":19,"v":10,"y":-0.005686},{"p":19,"v":12.5,"y":-0.005667},{"p":19,"v":15,"y":-0.005672},{"p":19,"v":17.5,"y":-0.005681},{"p":19,"v":20,"y":-0.005691},{"p":19,"v":23,"y":-0.005695},
{"p":20,"v":-22.5,"y":-0.006},{"p":20,"v":-20,"y":-0.006},{"p":20,"v":-17.5,"y":-0.006},{"p":20,"v":-15,"y":-0.005995},{"p":20,"v":-12.5,"y":-0.005991},{"p":20,"v":-10,"y":-0.005967},{"p":20,"v":-7.5,"y":-0.005929},{"p":20,"v":-5,"y":-0.005877},{"p":20,"v":-4,"y":-0.005848},{"p":20,"v":-2.5,"y":-0.005886},{"p":20,"v":0,"y":-0.006038},{"p":20,"v":2.5,"y":-0.006123},{"p":20,"v":4.5,"y":-0.006149},{"p":20,"v":7.5,"y":-0.006076},{"p":20,"v":10,"y":-0.006028},{"p":20,"v":12.5,"y":-0.006014},{"p":20,"v":15,"y":-0.006},{"p":20,"v":17.5,"y":-0.005995},{"p":20,"v":20,"y":-0.005995},{"p":20,"v":23,"y":-0.006}
]
},
"layer": [
{
  "data": {"name": "meta"},
  "mark": {"type": "rule", "strokeDash": [6, 4], "strokeWidth": 1},
  "encoding": {
    "x": {"datum": -22.5, "type": "quantitative", "scale": {"domain": [-26.75, 36.5], "nice": false, "zero": false}, "axis": null},
    "x2": {"datum": 23},
    "y": {"field": "base", "type": "quantitative", "scale": {"domain": [-0.006306, 0.000306], "nice": false, "zero": false}, "axis": null},
    "color": {"field": "group", "type": "nominal", "scale": {"domain": ["a", "b"], "range": ["#000000", "#808080"]}, "legend": null}
  }
},
{
  "data": {"name": "meta"},
  "mark": {"type": "errorbar", "color": "black", "thickness": 1, "ticks": {"size": 5, "thickness": 1, "color": "black"}},
  "encoding": {
    "x": {"datum": -24.5, "type": "quantitative", "axis": null},
    "y": {"field": "base", "type": "quantitative", "axis": null},
    "yError": {"field": "err"}
  }
},
{
  "data": {"name": "model"},
  "mark": {"type": "line", "color": "#ff0000", "strokeWidth": 1.2},
  "encoding": {
    "x": {"field": "v", "type": "quantitative", "scale": {"domain": [-26.75, 36.5], "nice": false, "zero": false},
          "axis": {"orient": "top", "values": [-20, -10, 0, 10, 20, 30], "labels": false, "tickSize": -4, "title": null}},
    "y": {"field": "y", "type": "quantitative", "scale": {"domain": [-0.006306, 0.000306], "nice": false, "zero": false},
          "axis": {"orient": "right", "values": [0, -0.001, -0.002, -0.003, -0.004, -0.005, -0.006], "labels": false, "tickSize": -4, "title": null}},
    "detail": {"field": "p", "type": "nominal"}
  }
},
{
  "data": {"name": "obs"},
  "mark": {"type": "line", "color": "#000000", "strokeWidth": 1},
  "encoding": {
    "x": {"field": "v", "type": "quantitative", "scale": {"domain": [-26.75, 36.5], "nice": false, "zero": false},
          "axis": {"orient": "bottom", "values": [-20, -10, 0, 10, 20, 30], "tickSize": -4, "labelPadding": 8, "title": "Radial velocity (km/s)", "titleFont": "DejaVu Sans", "titleFontSize": 15, "titleFontWeight": "normal", "titleColor": "black", "titleBaseline": "alphabetic", "titleY": 29}},
    "y": {"field": "y", "type": "quantitative", "scale": {"domain": [-0.006306, 0.000306], "nice": false, "zero": false},
          "axis": {"orient": "left", "values": [0, -0.001, -0.002, -0.003, -0.004, -0.005, -0.006], "tickSize": -4, "labelPadding": 6, "title": null, "labelExpr": "replace(format(datum.value, '.3f'), '\u2212', '-')"}},
    "detail": {"field": "p", "type": "nominal"}
  }
},
{
  "data": {"name": "meta"},
  "mark": {"type": "text", "align": "left", "baseline": "middle", "dy": -5, "fontSize": 12, "font": "DejaVu Sans", "color": "black"},
  "encoding": {
    "x": {"datum": 25, "type": "quantitative", "axis": null},
    "y": {"field": "base", "type": "quantitative", "axis": null},
    "text": {"field": "label", "type": "nominal"}
  }
}
],
"resolve": {"axis": {"x": "independent", "y": "independent"}}
}
